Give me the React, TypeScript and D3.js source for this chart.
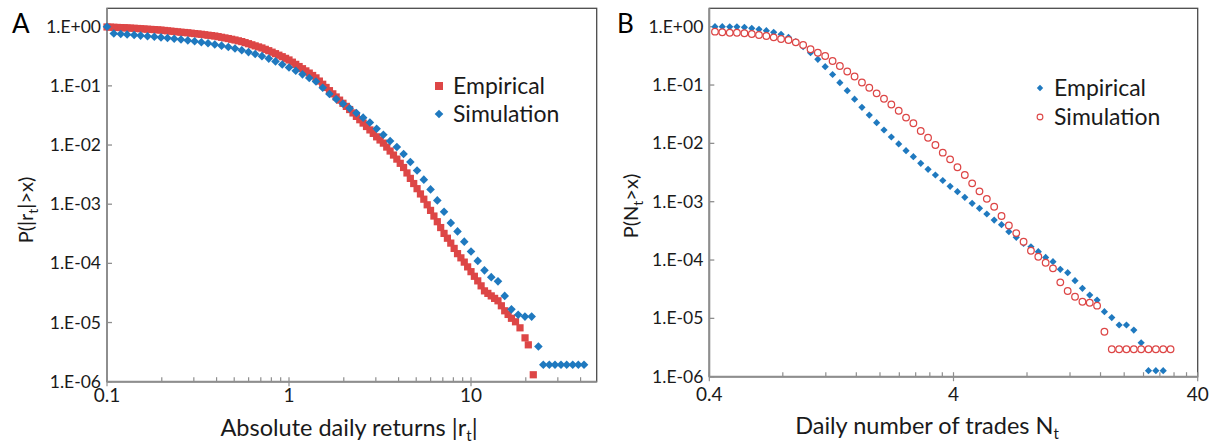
import React from 'react';
import * as d3 from 'd3';

// ---------- Panel A data: absolute daily returns ----------
const empReturnX = [0.1,0.1044,0.109,0.1138,0.119,0.1242,0.129,0.1346,0.141,0.1471,0.153,0.1597,0.167,0.1743,0.182,0.1899,0.198,0.2066,0.215,0.2244,0.234,0.2442,0.255,0.2661,0.278,0.2901,0.303,0.3162,0.33,0.3444,0.359,0.3747,0.391,0.408,0.426,0.4446,0.464,0.4842,0.505,0.527,0.55,0.574,0.599,0.6251,0.652,0.6804,0.71,0.741,0.774,0.8077,0.843,0.8798,0.918,0.958,1,1.0436,1.089,1.1365,1.186,1.2377,1.292,1.3483,1.407,1.4684,1.532,1.5988,1.668,1.7407,1.817,1.8962,1.979,2.0653,2.154,2.2479,2.346,2.4483,2.555,2.6664,2.783,2.9043,3.031,3.1632,3.3,3.4439,3.594,3.7507,3.914,4.0847,4.262,4.4478,4.642,4.8444,5.055,5.2754,5.505,5.745,5.995,6.2564,6.529,6.8137,7.11,7.42,7.743,8.0806,8.432,8.7996,9.183,9.5834,10,10.436,10.89,11.365,11.86,12.377,12.92,13.483,14.07,14.683,15.32,15.988,16.68,17.56,18.59,19.81,20.65,21.99];
const empReturnP = [0.99,0.9835,0.977,0.9715,0.966,0.96,0.954,0.947,0.94,0.9325,0.925,0.916,0.907,0.9,0.893,0.8845,0.876,0.864,0.852,0.841,0.83,0.8184,0.807,0.798,0.789,0.777,0.765,0.7545,0.744,0.731,0.718,0.707,0.696,0.679,0.662,0.6458,0.63,0.613,0.596,0.5777,0.56,0.5376,0.516,0.4946,0.474,0.4551,0.437,0.4144,0.393,0.3709,0.35,0.3299,0.311,0.2919,0.274,0.2516,0.231,0.2122,0.195,0.1791,0.1645,0.1498,0.1365,0.1205,0.1064,0.094,0.083,0.0734,0.0649,0.0574,0.0508,0.045,0.0398,0.03484,0.0305,0.02677,0.0235,0.02057,0.018,0.01574,0.01376,0.01217,0.01077,0.00924,0.00792,0.00677,0.00578,0.00491,0.00417,0.003374,0.00273,0.002235,0.00183,0.001491,0.001215,9.77e-4,7.86e-4,6.31e-4,5.06e-4,4.03e-4,3.21e-4,2.66e-4,2.2e-4,1.79e-4,1.46e-4,1.24e-4,1.05e-4,8.72e-5,7.24e-5,6.05e-5,5.06e-5,4.17e-5,3.43e-5,3.11e-5,2.82e-5,2.56e-5,2.33e-5,1.92e-5,1.58e-5,1.37e-5,1.18e-5,1.03e-5,8.14e-6,5.51e-6,4.2e-6,1.31e-6];
const simReturnX = [0.1,0.109,0.119,0.129,0.141,0.153,0.167,0.182,0.198,0.215,0.234,0.255,0.278,0.303,0.33,0.359,0.391,0.426,0.464,0.505,0.55,0.599,0.652,0.71,0.774,0.843,0.918,1,1.089,1.186,1.292,1.407,1.532,1.668,1.817,1.979,2.154,2.346,2.555,2.783,3.031,3.3,3.594,3.914,4.262,4.642,5.055,5.505,5.995,6.529,7.11,7.743,8.432,9.183,10,10.89,11.86,12.92,14.07,15.32,16.68,18.17,19.79,21.54,23.46,24.96,26.93,28.94,31.22,33.56,36.22,38.87,41.78];
const simReturnP = [1.0,0.767,0.753,0.738,0.724,0.707,0.691,0.675,0.66,0.644,0.625,0.606,0.587,0.567,0.545,0.524,0.5,0.478,0.454,0.427,0.399,0.372,0.346,0.318,0.289,0.259,0.23,0.204,0.18,0.1564,0.136,0.1182,0.0932,0.0727,0.0598,0.0498,0.0417,0.0348,0.029,0.024,0.0189,0.01493,0.01173,0.00925,0.00707,0.00518,0.00371,0.0026,0.00178,0.00116,7.47e-4,4.83e-4,3.47e-4,2.33e-4,1.59e-4,1.1e-4,7.62e-5,5.85e-5,4.97e-5,2.82e-5,1.67e-5,1.35e-5,1.26e-5,1.26e-5,3.93e-6,1.93e-6,1.93e-6,1.93e-6,1.93e-6,1.93e-6,1.93e-6,1.93e-6,1.93e-6];

// ---------- Panel B data: daily number of trades ----------
const tradesX = [0.422,0.452,0.485,0.519,0.557,0.597,0.639,0.685,0.734,0.787,0.844,0.904,0.969,1.039,1.113,1.193,1.279,1.37,1.469,1.574,1.687,1.808,1.938,2.077,2.226,2.386,2.557,2.74,2.937,3.147,3.373,3.615,3.874,4.152,4.45,4.769,5.11,5.477,5.87,6.291,6.742,7.228,7.745,8.302,8.899,9.537,10.22,10.95,11.74,12.58,13.49,14.45,15.49,16.6,17.79,19.07,20.43,21.9,23.47,25.15,26.96,28.89,30.97];
const empTradesP = [1.0,1.0,0.995,0.995,0.977,0.939,0.902,0.854,0.802,0.741,0.658,0.553,0.454,0.358,0.276,0.206,0.1515,0.1096,0.0799,0.0572,0.0415,0.0306,0.0226,0.01694,0.01285,0.00977,0.00748,0.00591,0.00455,0.00359,0.00287,0.00231,0.001836,0.001483,0.001189,9.38e-4,7.7e-4,6.15e-4,4.85e-4,4.03e-4,3.06e-4,2.45e-4,1.93e-4,1.69e-4,1.39e-4,1.11e-4,9.36e-5,6.93e-5,6.06e-5,4.42e-5,3.27e-5,2.51e-5,2.06e-5,1.3e-5,1.03e-5,7.69e-6,7.69e-6,6.31e-6,3.82e-6,1.27e-6,1.27e-6,1.27e-6];
const simTradesP = [0.821,0.802,0.789,0.789,0.771,0.75,0.721,0.693,0.658,0.615,0.592,0.54,0.486,0.41,0.358,0.315,0.258,0.212,0.1706,0.14,0.1105,0.09,0.0721,0.0583,0.0464,0.0363,0.0277,0.0221,0.01629,0.0125,0.00937,0.00692,0.00533,0.00389,0.00287,0.002067,0.001507,0.00112,8.2e-4,5.68e-4,3.91e-4,2.9e-4,2.06e-4,1.44e-4,1.14e-4,9e-5,7.21e-5,4.15e-5,2.94e-5,2.35e-5,1.93e-5,1.85e-5,1.65e-5,5.9e-6,2.95e-6,2.95e-6,2.95e-6,2.95e-6,2.95e-6,2.95e-6,2.95e-6,2.95e-6,2.95e-6];

// ---------- ticks ----------
const yTickValues = [1, 1e-1, 1e-2, 1e-3, 1e-4, 1e-5, 1e-6];
const yTickLabels = ['1.E+00', '1.E-01', '1.E-02', '1.E-03', '1.E-04', '1.E-05', '1.E-06'];
const xTicksA = [0.1, 1, 10];
const xTickLabelsA = ['0.1', '1', '10'];
const xMinorA = [0.2, 0.3, 0.4, 0.5, 0.6, 0.7, 0.8, 0.9, 2, 3, 4, 5, 6, 7, 8, 9, 20, 30, 40];
const xTicksB = [0.4, 4, 40];
const xTickLabelsB = ['0.4', '4', '40'];
const xMinorB = [0.8, 1.2, 1.6, 2.0, 2.4, 2.8, 3.2, 3.6, 8, 12, 16, 20, 24, 28, 32, 36];

const FONT = "Lato, 'Open Sans', sans-serif";
const RED = '#DD4646';
const BLUE = '#1F79BF';
const AXIS = '#8E8E8E';
const BORDER = '#4A4A4A';
const TXT = '#1a1a1a';

type PanelProps = {
  left: number; right: number; top: number; bottom: number;
  x: d3.ScaleLogarithmic<number, number>;
  y: d3.ScaleLogarithmic<number, number>;
  majors: number[]; majorLabels: string[]; minors: number[]; xLabelY: number;
};

function Axes({ left, right, top, bottom, x, y, majors, majorLabels, minors, xLabelY }: PanelProps) {
  return (
    <g>
      <rect x={left} y={top} width={right - left} height={bottom - top} fill="none" stroke={BORDER} strokeWidth={1.3} />
      <line x1={left} x2={left} y1={top} y2={bottom} stroke={AXIS} strokeWidth={2} />
      <line x1={left} x2={right} y1={bottom} y2={bottom} stroke={AXIS} strokeWidth={2} />
      {yTickValues.map((v, i) => (
        <g key={'y' + i}>
          <line x1={left} x2={left + 5} y1={y(v)} y2={y(v)} stroke={AXIS} strokeWidth={1.3} />
          <text x={left - 6} y={y(v)} dy="0.35em" textAnchor="end" fontSize={17.5} fill={TXT} fontFamily={FONT}>{yTickLabels[i]}</text>
        </g>
      ))}
      {minors.map((v, i) => (
        <line key={'m' + i} x1={x(v)} x2={x(v)} y1={bottom} y2={bottom - 4.5} stroke={AXIS} strokeWidth={1.2} />
      ))}
      {majors.map((v, i) => (
        <g key={'x' + i}>
          <line x1={x(v)} x2={x(v)} y1={bottom - 4.5} y2={bottom + 4.5} stroke={AXIS} strokeWidth={1.2} />
          <text x={x(v)} y={xLabelY} textAnchor="middle" fontSize={19} fill={TXT} fontFamily={FONT}>{majorLabels[i]}</text>
        </g>
      ))}
    </g>
  );
}

const diamond = (r: number) => `M0,${-r}L${r},0L0,${r}L${-r},0Z`;

export default function App() {
  const xA = d3.scaleLog().domain([0.1, 10]).range([107, 471]);
  const yA = d3.scaleLog().domain([1e-6, 1]).range([381.7, 26.7]);
  const xB = d3.scaleLog().domain([0.4, 40]).range([709.3, 1197.7]);
  const yB = d3.scaleLog().domain([1e-6, 1]).range([376.7, 26.7]);

  const empA = d3.zip(empReturnX, empReturnP);
  const simA = d3.zip(simReturnX, simReturnP);
  const empB = d3.zip(tradesX, empTradesP);
  const simB = d3.zip(tradesX, simTradesP);

  return (
    <svg width={1214} height={445} style={{ position: 'absolute', left: 0, top: 0, background: '#fff' }}>
      <rect width={1214} height={445} fill="#fff" />
      {/* Panel A */}
      <Axes left={107} right={596.7} top={8.3} bottom={381.7} x={xA} y={yA}
        majors={xTicksA} majorLabels={xTickLabelsA} minors={xMinorA} xLabelY={402} />
      <g>
        {empA.map(([v, p], i) => (
          <rect key={'er' + i} x={xA(v) - 3.6} y={yA(p) - 3.6} width={7.2} height={7.2} fill={RED} />
        ))}
        {simA.map(([v, p], i) => (
          <path key={'sr' + i} d={diamond(4.3)} transform={`translate(${xA(v)},${yA(p)})`} fill={BLUE} />
        ))}
      </g>
      <text x={12} y={33} fontSize={26} fontFamily={FONT} fill="#000">A</text>
      {/* legend A */}
      <rect x={435} y={82} width={8} height={8} fill={RED} />
      <text x={453} y={86} dy="0.35em" fontSize={23} fontFamily={FONT} fill={TXT}>Empirical</text>
      <path d={diamond(4.3)} transform="translate(439,114)" fill={BLUE} />
      <text x={453} y={114} dy="0.35em" fontSize={23} fontFamily={FONT} fill={TXT}>Simulation</text>
      {/* axis titles A */}
      <text x={349} y={436} textAnchor="middle" fontSize={23.5} fontFamily={FONT} fill={TXT}>
        Absolute daily returns |r<tspan fontSize={15} dy={5}>t</tspan><tspan dy={-5}>|</tspan>
      </text>
      <text transform="translate(33,210) rotate(-90)" textAnchor="middle" fontSize={20} fontFamily={FONT} fill={TXT}>
        P(|r<tspan fontSize={14} dy={5}>t</tspan><tspan dy={-5}>|&gt;x)</tspan>
      </text>

      {/* Panel B */}
      <Axes left={709.3} right={1197.7} top={8.3} bottom={376.7} x={xB} y={yB}
        majors={xTicksB} majorLabels={xTickLabelsB} minors={xMinorB} xLabelY={401} />
      <g>
        {empB.map(([v, p], i) => (
          <path key={'et' + i} d={diamond(3.6)} transform={`translate(${xB(v)},${yB(p)})`} fill={BLUE} />
        ))}
        {simB.map(([v, p], i) => (
          <circle key={'st' + i} cx={xB(v)} cy={yB(p)} r={3.3} fill="#fff" stroke={RED} strokeWidth={1.25} />
        ))}
      </g>
      <text x={617} y={33} fontSize={26} fontFamily={FONT} fill="#000">B</text>
      {/* legend B */}
      <path d={diamond(3.2)} transform="translate(1040,88)" fill={BLUE} />
      <text x={1054} y={88} dy="0.35em" fontSize={23} fontFamily={FONT} fill={TXT}>Empirical</text>
      <circle cx={1040} cy={117} r={2.9} fill="#fff" stroke={RED} strokeWidth={1.1} />
      <text x={1054} y={117} dy="0.35em" fontSize={23} fontFamily={FONT} fill={TXT}>Simulation</text>
      {/* axis titles B */}
      <text x={927} y={434} textAnchor="middle" fontSize={23.5} fontFamily={FONT} fill={TXT}>
        Daily number of trades N<tspan fontSize={15} dy={5}>t</tspan>
      </text>
      <text transform="translate(638,206) rotate(-90)" textAnchor="middle" fontSize={20} fontFamily={FONT} fill={TXT}>
        P(N<tspan fontSize={14} dy={5}>t</tspan><tspan dy={-5}>&gt;x)</tspan>
      </text>
    </svg>
  );
}
